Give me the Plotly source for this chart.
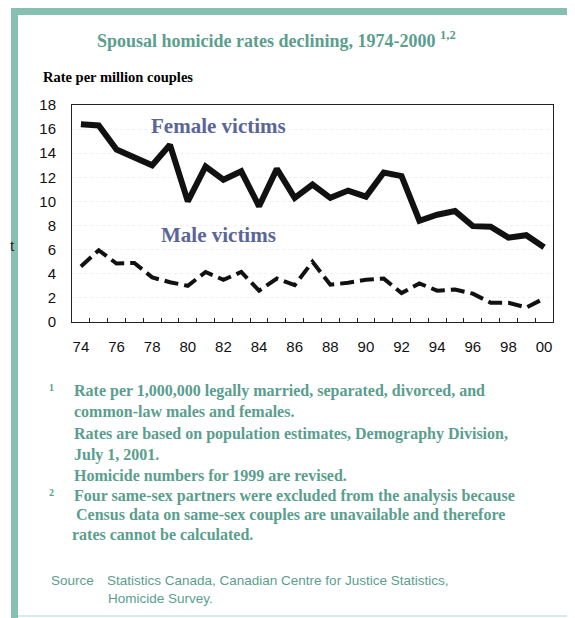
import plotly.graph_objects as go

# ---- data ----
years = list(range(1974, 2001))
female_rates = [16.4, 16.3, 14.3, 13.6, 13.0, 14.7, 10.0, 12.9, 11.8, 12.5,
                9.6, 12.7, 10.3, 11.4, 10.3, 10.9, 10.4, 12.4, 12.1, 8.4,
                8.9, 9.2, 7.95, 7.9, 7.0, 7.2, 6.2]
male_rates = [4.6, 5.95, 4.85, 4.9, 3.7, 3.3, 3.0, 4.15, 3.5, 4.15,
              2.6, 3.6, 3.05, 5.0, 3.1, 3.25, 3.5, 3.6, 2.4, 3.2,
              2.6, 2.7, 2.35, 1.6, 1.6, 1.2, 1.95]
x_tick_years = list(range(1974, 2001, 2))
x_tick_labels = ["74", "76", "78", "80", "82", "84", "86", "88", "90", "92",
                 "94", "96", "98", "00"]
y_ticks = list(range(0, 19, 2))

# ---- geometry (page pixels; the page body adds an 8px margin) ----
OFF = 8
W, H = 575, 618
L, R, T, B = 72, 553, 105, 322
PW, PH = R - L, B - T
FW, FH = W - OFF, H - OFF


def px(x):
    return (x - L) / PW


def py(y):
    return (B - y) / PH


TEAL = "#5A9E8E"
BORDER = "#86C0B1"
SLATE = "#5B6698"
SERIF = "Liberation Serif, Times New Roman, serif"
SANS = "Liberation Sans, Arial, sans-serif"

fig = go.Figure()
fig.add_trace(go.Scatter(x=years, y=female_rates, mode="lines",
                         line=dict(color="#111111", width=6),
                         name="Female victims", showlegend=False))
fig.add_trace(go.Scatter(x=years, y=male_rates, mode="lines",
                         line=dict(color="#111111", width=4, dash="14px,6px"),
                         name="Male victims", showlegend=False))

shapes = [
    dict(type="rect", xref="paper", yref="paper", x0=px(11), x1=px(18),
         y0=py(620), y1=py(8), fillcolor=BORDER, line_width=0, layer="below"),
    dict(type="rect", xref="paper", yref="paper", x0=px(11), x1=px(577),
         y0=py(15), y1=py(8), fillcolor=BORDER, line_width=0, layer="below"),
    dict(type="line", xref="paper", yref="paper", x0=px(18), x1=px(577),
         y0=py(616), y1=py(616), line=dict(color="#d6ece6", width=2)),
    dict(type="line", xref="paper", yref="paper", x0=px(574), x1=px(574),
         y0=py(15), y1=py(616), line=dict(color="#e4f2ee", width=1)),
]

ann = []


def add_text(text, x, y, size, color, family=SERIF, xanchor="left", bold=False):
    t = f"<b>{text}</b>" if bold else text
    ann.append(dict(text=t, x=px(x), y=py(y), xref="paper", yref="paper",
                    xanchor=xanchor, yanchor="middle", showarrow=False,
                    font=dict(size=size, color=color, family=family)))


add_text("Spousal homicide rates declining, 1974-2000 <sup>1,2</sup>", 276, 39, 18,
         TEAL, xanchor="center", bold=True)
add_text("Rate per million couples", 41, 77, 14.5, "#000000", bold=True)
add_text("Female victims", 149, 126, 21, SLATE, bold=True)
add_text("Male victims", 159, 235, 21, SLATE, bold=True)
add_text("t", 8, 245, 16, "#222222")

foot_lines = [
    ("Rate per 1,000,000 legally married, separated, divorced, and", 72, 391),
    ("common-law males and females.", 72, 411),
    ("Rates are based on population estimates, Demography Division,", 72, 434),
    ("July 1, 2001.", 72, 455),
    ("Homicide numbers for 1999 are revised.", 72, 475),
    ("Four same-sex partners were excluded from the analysis because", 72, 496),
    ("Census data on same-sex couples are unavailable and therefore", 74, 515),
    ("rates cannot be calculated.", 70, 534),
]
for txt, x, y in foot_lines:
    add_text(txt, x, y, 16, TEAL, bold=True)
add_text("1", 47, 387, 10, TEAL, bold=True)
add_text("2", 47, 492, 10, TEAL, bold=True)

add_text("Source", 49, 580, 13.5, TEAL, family=SANS)
add_text("Statistics Canada, Canadian Centre for Justice Statistics,", 105, 580, 13.5,
         TEAL, family=SANS)
add_text("Homicide Survey.", 106, 598, 13.5, TEAL, family=SANS)

fig.update_layout(
    width=FW, height=FH,
    margin=dict(l=L - OFF, r=FW - (R - OFF), t=T - OFF, b=FH - (B - OFF), pad=0),
    paper_bgcolor="white", plot_bgcolor="white",
    shapes=shapes, annotations=ann,
    xaxis=dict(range=[1973.5, 2000.5], tickmode="array", tickvals=x_tick_years,
               ticktext=x_tick_labels, ticks="", showgrid=False, zeroline=False,
               showline=True, linecolor="#222222", linewidth=1, mirror=True,
               tickfont=dict(family=SANS, size=15, color="#111111"),
               ticklabelstandoff=11,
               minor=dict(tickvals=[y + 0.5 for y in years[:-1]], ticks="inside",
                          ticklen=4, tickcolor="#222222", tickwidth=1,
                          showgrid=False)),
    yaxis=dict(range=[0, 18], tickmode="array", tickvals=y_ticks, ticks="",
               showgrid=True, gridcolor="#efefef", griddash="dot", zeroline=False,
               showline=True, linecolor="#222222", linewidth=1, mirror=True,
               tickfont=dict(family=SANS, size=15, color="#111111"),
               ticklabelstandoff=12),
)

fig.write_html("out.html")
